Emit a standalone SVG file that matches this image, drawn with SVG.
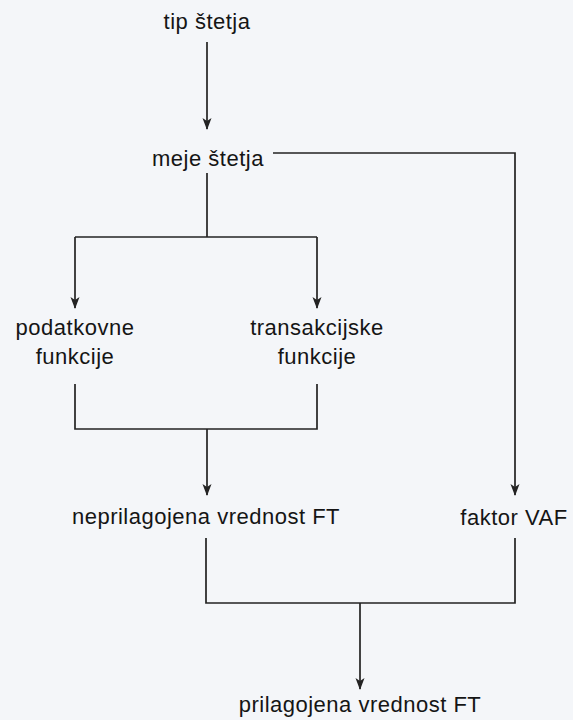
<svg xmlns="http://www.w3.org/2000/svg" width="573" height="720" viewBox="0 0 573 720">
  <style>
    .t { font-family: "Liberation Sans", Arial, Helvetica, sans-serif; font-size: 22px; fill: #151515; text-anchor: middle; letter-spacing: 0.5px; }
    .c { fill: none; stroke: #232323; stroke-width: 1.7; }
  </style>
  <defs>
    <marker id="ah" viewBox="0 0 12 10" refX="11" refY="5" markerWidth="12" markerHeight="10" markerUnits="userSpaceOnUse" orient="auto">
      <path d="M0,0.5 L12,5 L0,9.5 L3,5 z" fill="#232323"/>
    </marker>
  </defs>
  <rect x="0" y="0" width="573" height="720" fill="#f4f6f9"/>

  <g id="connectors">
    <line class="c" x1="207" y1="42" x2="207" y2="129" marker-end="url(#ah)"/>
    <polyline class="c" points="273,153 515,153 515,495" marker-end="url(#ah)"/>
    <line class="c" x1="207" y1="173" x2="207" y2="237"/>
    <line class="c" x1="75" y1="237" x2="317" y2="237"/>
    <line class="c" x1="75" y1="237" x2="75" y2="308" marker-end="url(#ah)"/>
    <line class="c" x1="317" y1="237" x2="317" y2="308" marker-end="url(#ah)"/>
    <polyline class="c" points="75,384 75,429 317,429 317,384"/>
    <line class="c" x1="207" y1="429" x2="207" y2="495" marker-end="url(#ah)"/>
    <polyline class="c" points="206,538 206,603 515,603 515,538"/>
    <line class="c" x1="360" y1="603" x2="360" y2="689" marker-end="url(#ah)"/>
  </g>

  <g id="tip-stetja"><text class="t" x="207" y="29">tip štetja</text></g>
  <g id="meje-stetja"><text class="t" x="208" y="166">meje štetja</text></g>
  <g id="podatkovne-funkcije">
    <text class="t" x="75" y="335">podatkovne</text>
    <text class="t" x="75" y="364">funkcije</text>
  </g>
  <g id="transakcijske-funkcije">
    <text class="t" x="317" y="335">transakcijske</text>
    <text class="t" x="317" y="364">funkcije</text>
  </g>
  <g id="neprilagojena-vrednost-ft"><text class="t" x="206" y="524">neprilagojena vrednost FT</text></g>
  <g id="faktor-vaf"><text class="t" x="514" y="525">faktor VAF</text></g>
  <g id="prilagojena-vrednost-ft"><text class="t" x="360" y="712">prilagojena vrednost FT</text></g>
</svg>
